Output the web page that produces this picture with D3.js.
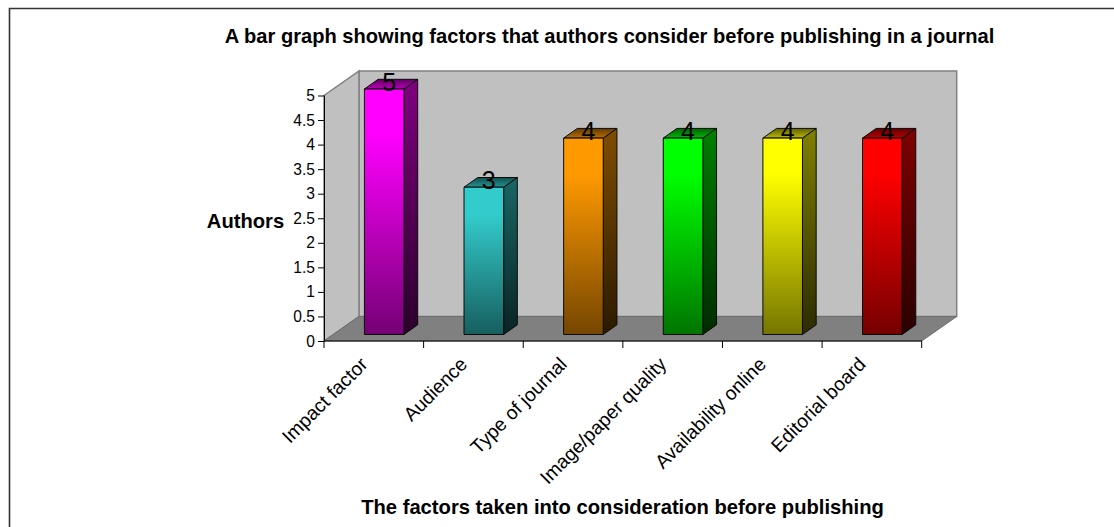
<!DOCTYPE html>
<html>
<head>
<meta charset="utf-8">
<script src="https://cdn.jsdelivr.net/npm/d3@7/dist/d3.min.js"></script>
<style>
  html, body { margin: 0; padding: 0; background: #fff; }
  svg { display: block; }
  text { font-family: "Liberation Sans", Arial, sans-serif; fill: #000; }
</style>
</head>
<body>
<svg id="chart" width="1114" height="527"></svg>
<script>
// Chart data
const categories = ["Impact factor", "Audience", "Type of journal", "Image/paper quality", "Availability online", "Editorial board"];
const authors = [5, 3, 4, 4, 4, 4];
const barColors = ["#FF00FF", "#33CCCC", "#FF9900", "#00FF00", "#FFFF00", "#FF0000"];
const yTicks = [0, 0.5, 1, 1.5, 2, 2.5, 3, 3.5, 4, 4.5, 5];
const chartTitle = "A bar graph showing factors that authors consider before publishing in a journal";
const xTitle = "The factors taken into consideration before publishing";
const yTitle = "Authors";

// Layout of the oblique 3D box
const W = 1114, H = 527;
const plot = { left: 324, right: 921.7, top: 95.5, bottom: 341 };
const wallDepth = { x: 35, y: -24.5 };
const barOffset = { x: 10.4, y: -6.5 };
const barDepth = { x: 13.7, y: -9.7 };
const barWidth = 39.6;

const svg = d3.select("#chart");
const defs = svg.append("defs");

const x = d3.scaleBand().domain(categories).range([plot.left, plot.right]);
const y = d3.scaleLinear().domain([0, 5]).range([plot.bottom, plot.top]);

const shade = (color, k) => d3.interpolateRgb("#000", color)(k);
const pts = a => a.map(p => p.join(",")).join(" ");

function gradient(id, stops) {
  const g = defs.append("linearGradient").attr("id", id)
    .attr("x1", 0).attr("y1", 0).attr("x2", 0).attr("y2", 1);
  stops.forEach(([o, c]) => g.append("stop").attr("offset", o).attr("stop-color", c));
}

// Outer frame: only the top and left rules are visible
svg.append("path")
  .attr("d", `M9.5,${H} L9.5,8.5 L${W},8.5`)
  .attr("fill", "none").attr("stroke", "#333").attr("stroke-width", 1.6);

// Back wall, side wall and floor
const bx = wallDepth.x, by = wallDepth.y;
const grey = "#C0C0C0", edge = "#808080";
svg.append("polygon")
  .attr("points", pts([[plot.left + bx, plot.top + by], [plot.right + bx, plot.top + by],
                       [plot.right + bx, plot.bottom + by], [plot.left + bx, plot.bottom + by]]))
  .attr("fill", grey).attr("stroke", edge).attr("stroke-width", 1.5);
svg.append("polygon")
  .attr("points", pts([[plot.left, plot.top], [plot.left + bx, plot.top + by],
                       [plot.left + bx, plot.bottom + by], [plot.left, plot.bottom]]))
  .attr("fill", grey).attr("stroke", edge).attr("stroke-width", 1.5);
svg.append("polygon")
  .attr("points", pts([[plot.left, plot.bottom], [plot.left + bx, plot.bottom + by],
                       [plot.right + bx, plot.bottom + by], [plot.right, plot.bottom]]))
  .attr("fill", "#808080").attr("stroke", "#6e6e6e").attr("stroke-width", 1);

// Bars, each drawn as side, top and front faces
const bars = categories.map((c, i) => ({ c, i, v: authors[i], color: barColors[i] }));
bars.forEach(d => {
  gradient(`front${d.i}`, [[0, shade(d.color, 1)], [0.18, shade(d.color, 1)], [1, shade(d.color, 0.46)]]);
  gradient(`side${d.i}`, [[0, shade(d.color, 0.5)], [1, shade(d.color, 0.17)]]);
  gradient(`top${d.i}`, [[0, shade(d.color, 0.38)], [1, shade(d.color, 0.72)]]);
});
const barLeft = d => x(d.c) + (x.bandwidth() - barWidth) / 2 + barOffset.x;
const barTop = d => y(d.v) + barOffset.y;
const barBase = () => y(0) + barOffset.y;

const group = svg.append("g").selectAll("g").data(bars).join("g")
  .attr("stroke", "#0a0a0a").attr("stroke-width", 1).attr("stroke-linejoin", "round");

group.append("polygon")
  .attr("fill", d => `url(#side${d.i})`)
  .attr("points", d => {
    const r = barLeft(d) + barWidth;
    return pts([[r, barTop(d)], [r + barDepth.x, barTop(d) + barDepth.y],
                [r + barDepth.x, barBase() + barDepth.y], [r, barBase()]]);
  });
group.append("polygon")
  .attr("fill", d => `url(#top${d.i})`)
  .attr("points", d => {
    const l = barLeft(d), r = l + barWidth, t = barTop(d);
    return pts([[l, t], [l + barDepth.x, t + barDepth.y], [r + barDepth.x, t + barDepth.y], [r, t]]);
  });
group.append("rect")
  .attr("fill", d => `url(#front${d.i})`)
  .attr("x", barLeft).attr("y", barTop)
  .attr("width", barWidth).attr("height", d => barBase() - barTop(d));

// Value labels sit over the bar tops
svg.append("g").selectAll("text").data(bars).join("text")
  .attr("x", d => barLeft(d) + barWidth / 2 + 5)
  .attr("y", d => barTop(d) + 2)
  .attr("text-anchor", "middle")
  .attr("font-size", 25)
  .attr("fill", "#111")
  .text(d => d.v);

// Value axis
const yAxis = svg.append("g")
  .attr("transform", `translate(${plot.left},0)`)
  .call(d3.axisLeft(y).tickValues(yTicks).tickSize(6).tickPadding(3).tickFormat(d3.format("~g")));
yAxis.select(".domain").attr("d", `M0.5,${plot.top} V${plot.bottom}`).attr("stroke", "#000");
yAxis.selectAll("text").attr("font-size", 15.6).style("font-family", '"Liberation Sans", Arial, sans-serif').attr("fill", "#111");

// Category axis with slanted labels
const xAxis = svg.append("g").attr("transform", `translate(0,${plot.bottom})`);
xAxis.append("line").attr("x1", plot.left).attr("x2", plot.right).attr("stroke", "#000").attr("stroke-width", 1.2);
const boundaries = categories.map(c => x(c)).concat(plot.right);
xAxis.selectAll(".boundary").data(boundaries).join("line").attr("class", "boundary")
  .attr("x1", d => d).attr("x2", d => d).attr("y1", 0).attr("y2", 7)
  .attr("stroke", "#000");
xAxis.selectAll("text").data(categories).join("text")
  .attr("text-anchor", "end")
  .attr("font-size", 19.3)
  .attr("fill", "#111")
  .attr("transform", c => `translate(${x(c) + x.bandwidth() / 2 - 5},${24.5}) rotate(-45)`)
  .text(c => c);

// Titles
svg.append("text").attr("x", 609.5).attr("y", 43).attr("text-anchor", "middle")
  .attr("font-size", 20.1).attr("font-weight", "bold").text(chartTitle);
svg.append("text").attr("x", 622.5).attr("y", 514).attr("text-anchor", "middle")
  .attr("font-size", 20.2).attr("font-weight", "bold").text(xTitle);
svg.append("text").attr("x", 245.5).attr("y", 228).attr("text-anchor", "middle")
  .attr("font-size", 20.2).attr("font-weight", "bold").text(yTitle);
</script>
</body>
</html>
